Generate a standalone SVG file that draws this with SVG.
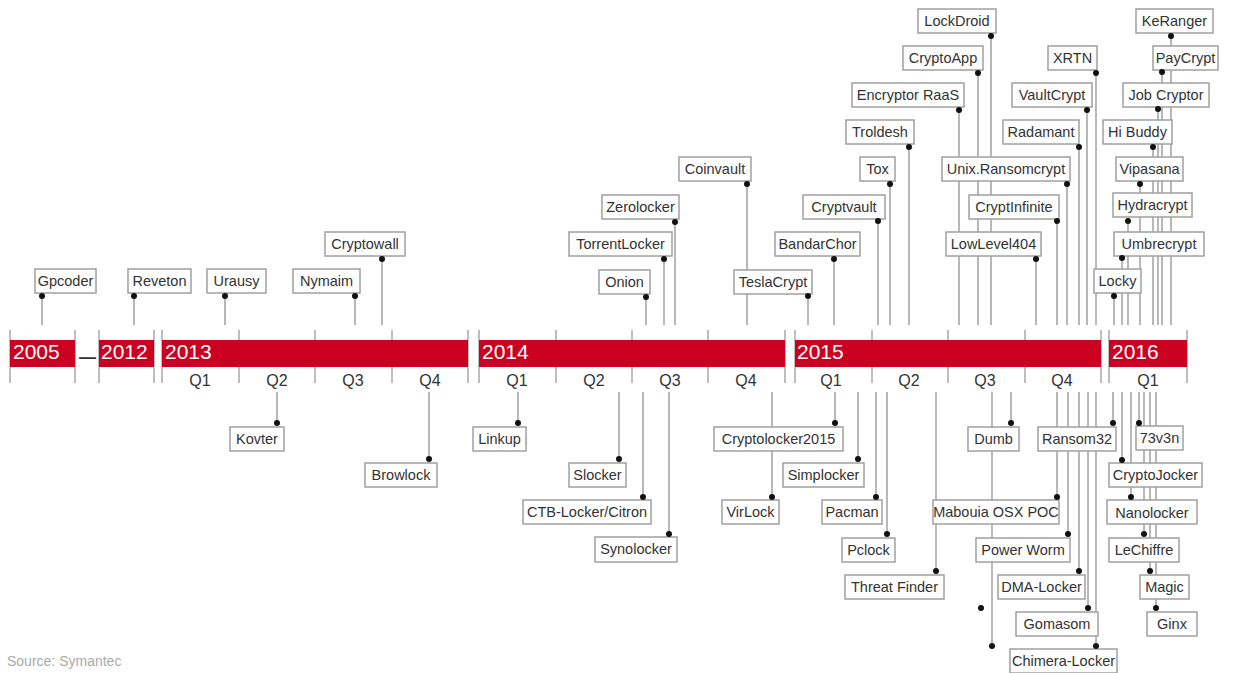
<svg xmlns="http://www.w3.org/2000/svg" width="1233" height="673" viewBox="0 0 1233 673">
<style>
.bg{fill:#fff}
.tick{stroke:#a8a8a8;stroke-width:1.5}
.bar{fill:#cc0020}
.yr{font-family:"Liberation Sans",Arial,sans-serif;font-size:21px;fill:#fff}
.q{font-family:"Liberation Sans",Arial,sans-serif;font-size:16px;fill:#333;text-anchor:middle}
.conn line{stroke:#a0a0a0;stroke-width:1.5}
.box{fill:#fff;stroke:#a0a0a0;stroke-width:1.5}
.lbl{font-family:"Liberation Sans",Arial,sans-serif;font-size:14.5px;fill:#333;text-anchor:middle}
.dot{fill:#111}
.src{font-family:"Liberation Sans",Arial,sans-serif;font-size:14px;fill:#aaa}
</style>
<rect class="bg" x="0" y="0" width="1233" height="673"/>
<g id="timeline">
<g class="tick">
<line x1="10" y1="330" x2="10" y2="383"/><line x1="75" y1="330" x2="75" y2="383"/>
<line x1="99" y1="330" x2="99" y2="383"/><line x1="154" y1="330" x2="154" y2="383"/>
<line x1="162" y1="330" x2="162" y2="383"/><line x1="239" y1="330" x2="239" y2="383"/>
<line x1="315" y1="330" x2="315" y2="383"/><line x1="392" y1="330" x2="392" y2="383"/>
<line x1="468" y1="330" x2="468" y2="383"/><line x1="479" y1="330" x2="479" y2="383"/>
<line x1="556" y1="330" x2="556" y2="383"/><line x1="632" y1="330" x2="632" y2="383"/>
<line x1="708" y1="330" x2="708" y2="383"/><line x1="785" y1="330" x2="785" y2="383"/>
<line x1="795" y1="330" x2="795" y2="383"/><line x1="872" y1="330" x2="872" y2="383"/>
<line x1="948" y1="330" x2="948" y2="383"/><line x1="1025" y1="330" x2="1025" y2="383"/>
<line x1="1101" y1="330" x2="1101" y2="383"/><line x1="1109" y1="330" x2="1109" y2="383"/>
<line x1="1187" y1="330" x2="1187" y2="383"/>
</g>
<rect class="bar" x="10" y="340" width="65" height="27"/>
<rect class="bar" x="99" y="340" width="55" height="27"/>
<rect class="bar" x="162" y="340" width="306" height="27"/>
<rect class="bar" x="479" y="340" width="306" height="27"/>
<rect class="bar" x="795" y="340" width="306" height="27"/>
<rect class="bar" x="1109" y="340" width="78" height="27"/>
<text class="yr" x="13" y="359">2005</text>
<text x="87.5" y="363" font-family="Liberation Sans,Arial,sans-serif" font-size="17" font-weight="bold" fill="#333" text-anchor="middle">—</text>
<text class="yr" x="101" y="359">2012</text>
<text class="yr" x="165" y="359">2013</text>
<text class="yr" x="482" y="359">2014</text>
<text class="yr" x="797" y="359">2015</text>
<text class="yr" x="1112" y="359">2016</text>
<text class="q" x="200" y="386">Q1</text><text class="q" x="277" y="386">Q2</text><text class="q" x="353" y="386">Q3</text><text class="q" x="430" y="386">Q4</text>
<text class="q" x="517" y="386">Q1</text><text class="q" x="594" y="386">Q2</text><text class="q" x="670" y="386">Q3</text><text class="q" x="746" y="386">Q4</text>
<text class="q" x="831" y="386">Q1</text><text class="q" x="909" y="386">Q2</text><text class="q" x="985" y="386">Q3</text><text class="q" x="1062" y="386">Q4</text>
<text class="q" x="1148" y="386">Q1</text>
</g>
<g id="connectors" class="conn">
<line x1="42" y1="296" x2="42" y2="325"/><line x1="134" y1="296" x2="134" y2="325"/>
<line x1="225" y1="296" x2="225" y2="325"/><line x1="355" y1="296" x2="355" y2="325"/>
<line x1="382" y1="259" x2="382" y2="325"/><line x1="646" y1="297" x2="646" y2="325"/>
<line x1="664" y1="259" x2="664" y2="325"/><line x1="675" y1="222" x2="675" y2="325"/>
<line x1="747" y1="184" x2="747" y2="325"/><line x1="808" y1="296" x2="808" y2="325"/>
<line x1="834" y1="259" x2="834" y2="325"/><line x1="878" y1="221" x2="878" y2="325"/>
<line x1="890" y1="184" x2="890" y2="325"/><line x1="909" y1="147" x2="909" y2="325"/>
<line x1="959" y1="110" x2="959" y2="325"/><line x1="978" y1="73" x2="978" y2="325"/>
<line x1="991" y1="36" x2="991" y2="325"/><line x1="1067" y1="184" x2="1067" y2="325"/>
<line x1="1057" y1="221" x2="1057" y2="325"/><line x1="1036" y1="259" x2="1036" y2="325"/>
<line x1="1079" y1="147" x2="1079" y2="325"/><line x1="1087" y1="110" x2="1087" y2="325"/>
<line x1="1096" y1="73" x2="1096" y2="325"/><line x1="1114" y1="296" x2="1114" y2="325"/>
<line x1="1122" y1="258" x2="1122" y2="325"/><line x1="1128" y1="221" x2="1128" y2="325"/>
<line x1="1140" y1="184" x2="1140" y2="325"/><line x1="1153" y1="147" x2="1153" y2="325"/>
<line x1="1158" y1="109" x2="1158" y2="325"/><line x1="1162" y1="72" x2="1162" y2="325"/>
<line x1="1171" y1="36" x2="1171" y2="325"/>
<line x1="277" y1="392" x2="277" y2="423"/><line x1="429" y1="392" x2="429" y2="459"/>
<line x1="518" y1="392" x2="518" y2="423"/><line x1="619" y1="392" x2="619" y2="459"/>
<line x1="643" y1="392" x2="643" y2="497"/><line x1="669" y1="392" x2="669" y2="534"/>
<line x1="835" y1="392" x2="835" y2="423"/><line x1="772" y1="392" x2="772" y2="497"/>
<line x1="858" y1="392" x2="858" y2="459"/><line x1="876" y1="392" x2="876" y2="497"/>
<line x1="887" y1="392" x2="887" y2="534"/><line x1="936" y1="392" x2="936" y2="571"/>
<line x1="1011" y1="392" x2="1011" y2="423"/><line x1="1057" y1="392" x2="1057" y2="497"/>
<line x1="1068" y1="392" x2="1068" y2="534"/><line x1="1079" y1="392" x2="1079" y2="571"/>
<line x1="1088" y1="392" x2="1088" y2="608"/><line x1="1096" y1="392" x2="1096" y2="646"/>
<line x1="1113" y1="392" x2="1113" y2="423"/><line x1="1139" y1="392" x2="1139" y2="423"/>
<line x1="1122" y1="392" x2="1122" y2="460"/><line x1="1131" y1="392" x2="1131" y2="497"/>
<line x1="1144" y1="392" x2="1144" y2="534"/><line x1="1150" y1="392" x2="1150" y2="571"/>
<line x1="1156" y1="392" x2="1156" y2="608"/><line x1="992" y1="392" x2="992" y2="646"/>
</g>
<g id="stray"><circle class="dot" cx="992" cy="646" r="3"/><circle class="dot" cx="981" cy="608" r="3"/></g>
<g id="gpcoder"><rect class="box" x="35" y="269" width="61" height="24"/><text class="lbl" x="65.5" y="286">Gpcoder</text><circle class="dot" cx="42" cy="296" r="3"/></g>
<g id="reveton"><rect class="box" x="128" y="269" width="63" height="24"/><text class="lbl" x="159.5" y="286">Reveton</text><circle class="dot" cx="134" cy="296" r="3"/></g>
<g id="urausy"><rect class="box" x="207" y="269" width="59" height="24"/><text class="lbl" x="236.5" y="286">Urausy</text><circle class="dot" cx="225" cy="296" r="3"/></g>
<g id="nymaim"><rect class="box" x="293" y="269" width="67" height="24"/><text class="lbl" x="326.5" y="286">Nymaim</text><circle class="dot" cx="355" cy="296" r="3"/></g>
<g id="cryptowall"><rect class="box" x="325" y="232" width="80" height="24"/><text class="lbl" x="365" y="249">Cryptowall</text><circle class="dot" cx="382" cy="259" r="3"/></g>
<g id="onion"><rect class="box" x="599" y="270" width="51" height="24"/><text class="lbl" x="624.5" y="287">Onion</text><circle class="dot" cx="646" cy="297" r="3"/></g>
<g id="torrentlocker"><rect class="box" x="569" y="232" width="103" height="24"/><text class="lbl" x="620.5" y="249">TorrentLocker</text><circle class="dot" cx="664" cy="259" r="3"/></g>
<g id="zerolocker"><rect class="box" x="602" y="195" width="77" height="24"/><text class="lbl" x="640.5" y="212">Zerolocker</text><circle class="dot" cx="675" cy="222" r="3"/></g>
<g id="coinvault"><rect class="box" x="679" y="157" width="72" height="24"/><text class="lbl" x="715" y="174">Coinvault</text><circle class="dot" cx="747" cy="184" r="3"/></g>
<g id="teslacrypt"><rect class="box" x="734" y="270" width="78" height="24"/><text class="lbl" x="773" y="287">TeslaCrypt</text><circle class="dot" cx="808" cy="296" r="3"/></g>
<g id="bandarchor"><rect class="box" x="775" y="232" width="85" height="24"/><text class="lbl" x="817.5" y="249">BandarChor</text><circle class="dot" cx="834" cy="259" r="3"/></g>
<g id="cryptvault"><rect class="box" x="803" y="195" width="82" height="24"/><text class="lbl" x="844" y="212">Cryptvault</text><circle class="dot" cx="878" cy="221" r="3"/></g>
<g id="tox"><rect class="box" x="860" y="157" width="35" height="24"/><text class="lbl" x="877.5" y="174">Tox</text><circle class="dot" cx="890" cy="184" r="3"/></g>
<g id="troldesh"><rect class="box" x="846" y="120" width="68" height="24"/><text class="lbl" x="880" y="137">Troldesh</text><circle class="dot" cx="909" cy="147" r="3"/></g>
<g id="encryptor-raas"><rect class="box" x="852" y="83" width="112" height="24"/><text class="lbl" x="908" y="100">Encryptor RaaS</text><circle class="dot" cx="959" cy="110" r="3"/></g>
<g id="cryptoapp"><rect class="box" x="903" y="46" width="80" height="24"/><text class="lbl" x="943" y="63">CryptoApp</text><circle class="dot" cx="978" cy="73" r="3"/></g>
<g id="lockdroid"><rect class="box" x="918" y="9" width="78" height="24"/><text class="lbl" x="957" y="26">LockDroid</text><circle class="dot" cx="991" cy="36" r="3"/></g>
<g id="unix-ransomcrypt"><rect class="box" x="942" y="157" width="128" height="24"/><text class="lbl" x="1006" y="174">Unix.Ransomcrypt</text><circle class="dot" cx="1067" cy="184" r="3"/></g>
<g id="cryptinfinite"><rect class="box" x="969" y="195" width="90" height="24"/><text class="lbl" x="1014" y="212">CryptInfinite</text><circle class="dot" cx="1057" cy="221" r="3"/></g>
<g id="lowlevel404"><rect class="box" x="946" y="232" width="95" height="24"/><text class="lbl" x="993.5" y="249">LowLevel404</text><circle class="dot" cx="1036" cy="259" r="3"/></g>
<g id="radamant"><rect class="box" x="1003" y="120" width="76" height="24"/><text class="lbl" x="1041" y="137">Radamant</text><circle class="dot" cx="1079" cy="147" r="3"/></g>
<g id="vaultcrypt"><rect class="box" x="1012" y="83" width="80" height="24"/><text class="lbl" x="1052" y="100">VaultCrypt</text><circle class="dot" cx="1087" cy="110" r="3"/></g>
<g id="xrtn"><rect class="box" x="1048" y="46" width="49" height="24"/><text class="lbl" x="1072.5" y="63">XRTN</text><circle class="dot" cx="1096" cy="73" r="3"/></g>
<g id="locky"><rect class="box" x="1094" y="269" width="47" height="24"/><text class="lbl" x="1117.5" y="286">Locky</text><circle class="dot" cx="1114" cy="296" r="3"/></g>
<g id="umbrecrypt"><rect class="box" x="1114" y="232" width="90" height="24"/><text class="lbl" x="1159" y="249">Umbrecrypt</text><circle class="dot" cx="1122" cy="258" r="3"/></g>
<g id="hydracrypt"><rect class="box" x="1113" y="193" width="79" height="24"/><text class="lbl" x="1152.5" y="210">Hydracrypt</text><circle class="dot" cx="1128" cy="221" r="3"/></g>
<g id="vipasana"><rect class="box" x="1116" y="157" width="67" height="24"/><text class="lbl" x="1149.5" y="174">Vipasana</text><circle class="dot" cx="1140" cy="184" r="3"/></g>
<g id="hi-buddy"><rect class="box" x="1103" y="120" width="69" height="24"/><text class="lbl" x="1137.5" y="137">Hi Buddy</text><circle class="dot" cx="1153" cy="147" r="3"/></g>
<g id="job-cryptor"><rect class="box" x="1123" y="83" width="86" height="24"/><text class="lbl" x="1166" y="100">Job Cryptor</text><circle class="dot" cx="1158" cy="109" r="3"/></g>
<g id="paycrypt"><rect class="box" x="1153" y="46" width="65" height="24"/><text class="lbl" x="1185.5" y="63">PayCrypt</text><circle class="dot" cx="1162" cy="72" r="3"/></g>
<g id="keranger"><rect class="box" x="1136" y="9" width="77" height="24"/><text class="lbl" x="1174.5" y="26">KeRanger</text><circle class="dot" cx="1171" cy="36" r="3"/></g>
<g id="kovter"><rect class="box" x="230" y="427" width="54" height="24"/><text class="lbl" x="257" y="444">Kovter</text><circle class="dot" cx="277" cy="423" r="3"/></g>
<g id="browlock"><rect class="box" x="365" y="463" width="72" height="24"/><text class="lbl" x="401" y="480">Browlock</text><circle class="dot" cx="429" cy="459" r="3"/></g>
<g id="linkup"><rect class="box" x="473" y="427" width="53" height="24"/><text class="lbl" x="499.5" y="444">Linkup</text><circle class="dot" cx="518" cy="423" r="3"/></g>
<g id="slocker"><rect class="box" x="569" y="463" width="57" height="24"/><text class="lbl" x="597.5" y="480">Slocker</text><circle class="dot" cx="619" cy="459" r="3"/></g>
<g id="ctb-locker"><rect class="box" x="523" y="500" width="128" height="24"/><text class="lbl" x="587" y="517">CTB-Locker/Citron</text><circle class="dot" cx="643" cy="497" r="3"/></g>
<g id="synolocker"><rect class="box" x="595" y="537" width="82" height="25"/><text class="lbl" x="636" y="554">Synolocker</text><circle class="dot" cx="669" cy="534" r="3"/></g>
<g id="cryptolocker2015"><rect class="box" x="714" y="427" width="129" height="24"/><text class="lbl" x="778.5" y="444">Cryptolocker2015</text><circle class="dot" cx="835" cy="423" r="3"/></g>
<g id="virlock"><rect class="box" x="722" y="500" width="57" height="24"/><text class="lbl" x="750.5" y="517">VirLock</text><circle class="dot" cx="772" cy="497" r="3"/></g>
<g id="simplocker"><rect class="box" x="783" y="463" width="81" height="24"/><text class="lbl" x="823.5" y="480">Simplocker</text><circle class="dot" cx="858" cy="459" r="3"/></g>
<g id="pacman"><rect class="box" x="822" y="500" width="60" height="24"/><text class="lbl" x="852" y="517">Pacman</text><circle class="dot" cx="876" cy="497" r="3"/></g>
<g id="pclock"><rect class="box" x="842" y="538" width="53" height="24"/><text class="lbl" x="868.5" y="555">Pclock</text><circle class="dot" cx="887" cy="534" r="3"/></g>
<g id="threat-finder"><rect class="box" x="845" y="575" width="99" height="24"/><text class="lbl" x="894.5" y="592">Threat Finder</text><circle class="dot" cx="936" cy="571" r="3"/></g>
<g id="dumb"><rect class="box" x="968" y="427" width="51" height="24"/><text class="lbl" x="993.5" y="444">Dumb</text><circle class="dot" cx="1011" cy="423" r="3"/></g>
<g id="mabouia"><rect class="box" x="933" y="500" width="126" height="24"/><text class="lbl" x="996" y="517">Mabouia OSX POC</text><circle class="dot" cx="1057" cy="497" r="3"/></g>
<g id="power-worm"><rect class="box" x="976" y="538" width="94" height="24"/><text class="lbl" x="1023" y="555">Power Worm</text><circle class="dot" cx="1068" cy="534" r="3"/></g>
<g id="dma-locker"><rect class="box" x="998" y="575" width="87" height="24"/><text class="lbl" x="1041.5" y="592">DMA-Locker</text><circle class="dot" cx="1079" cy="571" r="3"/></g>
<g id="gomasom"><rect class="box" x="1016" y="612" width="82" height="24"/><text class="lbl" x="1057" y="629">Gomasom</text><circle class="dot" cx="1088" cy="608" r="3"/></g>
<g id="chimera-locker"><rect class="box" x="1010" y="649" width="107" height="24"/><text class="lbl" x="1063.5" y="666">Chimera-Locker</text><circle class="dot" cx="1096" cy="646" r="3"/></g>
<g id="ransom32"><rect class="box" x="1038" y="427" width="78" height="24"/><text class="lbl" x="1077" y="444">Ransom32</text><circle class="dot" cx="1113" cy="423" r="3"/></g>
<g id="73v3n"><rect class="box" x="1136" y="426" width="47" height="24"/><text class="lbl" x="1159.5" y="443">73v3n</text><circle class="dot" cx="1139" cy="423" r="3"/></g>
<g id="cryptojocker"><rect class="box" x="1109" y="463" width="93" height="24"/><text class="lbl" x="1155.5" y="480">CryptoJocker</text><circle class="dot" cx="1122" cy="460" r="3"/></g>
<g id="nanolocker"><rect class="box" x="1107" y="500" width="90" height="24"/><text class="lbl" x="1152" y="518" font-size="16">Nanolocker</text><circle class="dot" cx="1131" cy="497" r="3"/></g>
<g id="lechiffre"><rect class="box" x="1109" y="538" width="70" height="24"/><text class="lbl" x="1144" y="555">LeChiffre</text><circle class="dot" cx="1144" cy="534" r="3"/></g>
<g id="magic"><rect class="box" x="1140" y="575" width="49" height="24"/><text class="lbl" x="1164.5" y="592">Magic</text><circle class="dot" cx="1150" cy="571" r="3"/></g>
<g id="ginx"><rect class="box" x="1147" y="612" width="50" height="24"/><text class="lbl" x="1172" y="629">Ginx</text><circle class="dot" cx="1156" cy="608" r="3"/></g>
<text class="src" x="7" y="666">Source: Symantec</text>
</svg>
